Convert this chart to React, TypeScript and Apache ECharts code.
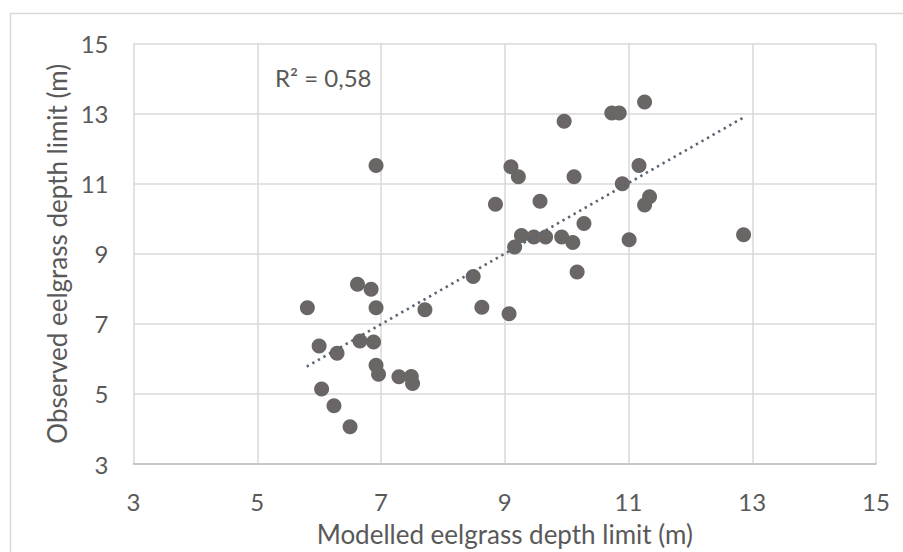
import React, { useEffect, useRef } from "react";
import * as echarts from "echarts";

const modelled: number[] = [
  5.81, 6.62, 6.84, 6.92, 7.71, 8.49, 8.63, 6.0, 6.29, 6.66, 6.88, 6.92, 6.96, 7.29, 7.49,
  7.51, 6.04, 6.24, 6.5, 6.92, 11.26, 10.73, 10.85, 9.96, 9.1, 9.22, 10.12, 11.17, 10.9,
  8.85, 9.57, 11.34, 11.26, 10.28, 9.27, 9.47, 9.66, 9.92, 10.1, 9.16, 11.01, 10.17, 9.07,
  12.86,
];
const observed: number[] = [
  7.46, 8.13, 7.99, 7.46, 7.4, 8.35, 7.47, 6.37, 6.16, 6.51, 6.48, 5.82, 5.56, 5.49, 5.5,
  5.3, 5.14, 4.66, 4.06, 11.52, 13.33, 13.02, 13.02, 12.78, 11.48, 11.2, 11.2, 11.52, 11.0,
  10.41, 10.5, 10.63, 10.39, 9.86, 9.52, 9.48, 9.48, 9.48, 9.32, 9.19, 9.4, 8.48, 7.29,
  9.54,
];
const trendX: number[] = [5.8, 12.85];
const trendY: number[] = [5.78, 12.88];
const r2Label = "R² = 0,58";
const xTitle = "Modelled eelgrass depth limit (m)";
const yTitle = "Observed eelgrass depth limit (m)";

const FONT = "Lato";
const TEXT = "#595959";

export default function App() {
  const ref = useRef<HTMLDivElement>(null);
  useEffect(() => {
    if (!ref.current) return;
    const chart = echarts.init(ref.current, undefined, { renderer: "svg" });
    const axisCommon = {
      min: 3,
      max: 15,
      interval: 2,
      nameLocation: "middle" as const,
      nameTextStyle: { color: TEXT, fontFamily: FONT, fontSize: 26 },
      axisTick: { show: false },
      axisLabel: { color: TEXT, fontFamily: FONT, fontSize: 24 },
      splitLine: { show: true, lineStyle: { color: "#d9d9d9", width: 1.5 } },
    };
    chart.setOption({
      animation: false,
      backgroundColor: "#ffffff",
      grid: { left: 133.5, right: 27, top: 43.5, bottom: 87 },
      xAxis: {
        ...axisCommon,
        type: "value",
        name: xTitle,
        nameGap: 57,
        axisLine: { show: true, lineStyle: { color: "#bfbfbf", width: 1.5 } },
        axisLabel: { ...axisCommon.axisLabel, margin: 25 },
      },
      yAxis: {
        ...axisCommon,
        type: "value",
        name: yTitle,
        nameGap: 64,
        axisLine: { show: false },
        axisLabel: { ...axisCommon.axisLabel, margin: 25 },
      },
      graphic: [
        {
          type: "rect",
          shape: { x: 10.5, y: 13.5, width: 1000, height: 1000 },
          style: { fill: "none", stroke: "#d9d9d9", lineWidth: 1.5 },
          silent: true,
          z: -10,
        },
        {
          type: "text",
          left: 275,
          top: 65,
          style: { text: r2Label, fill: TEXT, font: `24px ${FONT}` },
        },
      ],
      series: [
        {
          type: "scatter",
          data: modelled.map((x, i) => [x, observed[i]]),
          symbolSize: 15,
          itemStyle: { color: "#6b6666", opacity: 1 },
          z: 3,
        },
        {
          type: "line",
          data: trendX.map((x, i) => [x, trendY[i]]),
          symbol: "none",
          lineStyle: { color: "#5b6575", width: 2.6, type: [2.4, 4] },
          z: 4,
        },
      ],
    });
    return () => chart.dispose();
  }, []);
  return (
    <div
      ref={ref}
      style={{ position: "fixed", left: 0, top: 0, width: 903, height: 552, background: "#fff" }}
    />
  );
}
